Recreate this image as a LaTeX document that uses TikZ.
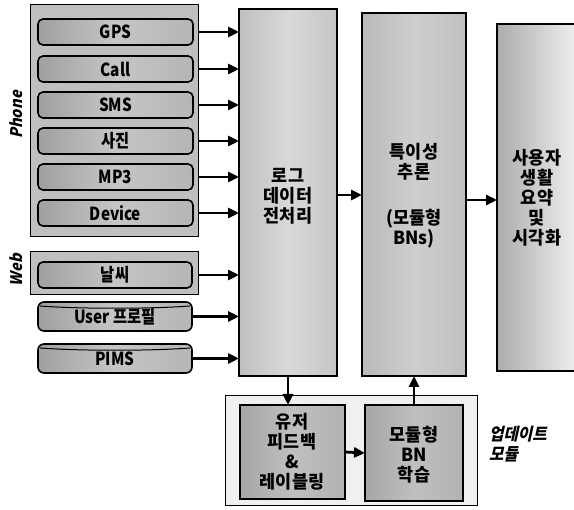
\documentclass[tikz,border=0pt]{standalone}
\usepackage{fontspec}
\setmainfont{Noto Sans CJK KR}
\newfontfamily\lab{Noto Sans CJK KR Black}[FakeStretch=0.85]
\newfontfamily\labk{Noto Sans CJK KR Black}[FakeStretch=0.97]
\newfontfamily\labit{Noto Sans CJK KR Black}[FakeStretch=0.92,FakeSlant=0.22]
\usetikzlibrary{arrows.meta}
\begin{document}
\begin{tikzpicture}[x=1pt,y=-1pt,
  box/.style={draw=black, line width=1.2pt, inner sep=0pt, outer sep=0pt, anchor=north west},
  grp/.style={box, line width=1pt, fill=gray!50},
  srcfont/.style={font=\lab\fontsize{18}{20}\selectfont},
  src/.style={box, srcfont, line width=1.6pt, rounded corners=5pt, left color=gray!75, right color=gray!58, middle color=gray!45},
  cyltext/.style={srcfont, inner sep=0pt, outer sep=0pt, anchor=north west},
  col/.style={box, line width=1.6pt},
  cyl/.style={line width=1.6pt, draw=black, left color=gray!75, right color=gray!58, middle color=gray!45},
  txt/.style={inner sep=0pt, align=center, font=\labk\fontsize{18}{20}\selectfont},
  itl/.style={inner sep=0pt, font=\labit\fontsize{16}{18}\selectfont},
  ar/.style={line width=2.8pt, -{Triangle[length=11pt,width=10pt]}}]
\useasboundingbox (0,0) rectangle (574,510);
\clip (0,0) rectangle (574,510);

% Phone group
\node[grp, minimum width=168pt, minimum height=232pt] (phone) at (30,5) {};
\node[itl, rotate=90] (phonel) at (16,115) {Phone};
\node[src, minimum width=155pt, minimum height=26pt] (gps) at (38,19) {GPS};
\node[src, minimum width=155pt, minimum height=26pt] (call) at (38,56) {Call};
\node[src, minimum width=155pt, minimum height=26pt] (sms) at (38,92) {SMS};
\node[src, minimum width=155pt, minimum height=26pt] (photo) at (38,128) {사진};
\node[src, minimum width=155pt, minimum height=26pt] (mp3) at (38,164) {MP3};
\node[src, minimum width=155pt, minimum height=26pt] (dev) at (38,200) {Device};

% Web group
\node[grp, minimum width=168pt, minimum height=43pt] (web) at (30,252) {};
\node[itl, rotate=90] (webl) at (16,270) {Web};
\node[src, minimum width=154pt, minimum height=26pt] (wth) at (38,262) {날씨};

% Cylinders
\draw[cyl, rounded corners=6pt] (38,302) rectangle (192,331);
\draw[line width=1pt] (40,306) .. controls (80,309) and (150,309) .. (190,306);
\node[cyltext, minimum width=154pt, minimum height=29pt] (usr) at (38,302) {User 프로필};
\draw[cyl, rounded corners=6pt] (38,344) rectangle (192,373);
\draw[line width=1pt] (40,348) .. controls (80,351) and (150,351) .. (190,348);
\node[cyltext, minimum width=154pt, minimum height=29pt] (pims) at (38,344) {PIMS};

% Main columns
\node[col, minimum width=98pt, minimum height=367pt, left color=gray!50, right color=gray!45, middle color=gray!30] (log) at (239,9) {};
\node[txt] (logt) at (288,196) {로그\\데이터\\전처리};
\node[col, minimum width=104pt, minimum height=363pt, left color=gray!55, right color=gray!50, middle color=gray!38] (inf) at (362,13) {};
\node[txt] (inft) at (414,196) {특이성\\추론\\[26pt](모듈형\\BNs)};
\node[col, minimum width=84pt, minimum height=347pt, left color=gray!65, right color=gray!10] (viz) at (497,24) {};
\node[txt] (vizt) at (537,198) {사용자\\생활\\요약\\및\\시각화};

% Update module
\node[box, line width=1pt, minimum width=252pt, minimum height=110pt, fill=gray!12] (upd) at (225,396) {};
\node[col, minimum width=105pt, minimum height=94pt, left color=gray!70, right color=gray!60, middle color=gray!50] (fb) at (240,405) {};
\node[txt] (fbt) at (292,452) {유저\\피드백\\\&\\레이블링};
\node[col, minimum width=98pt, minimum height=96pt, left color=gray!70, right color=gray!60, middle color=gray!50] (bn) at (365,405) {};
\node[txt] (bnt) at (414,455) {모듈형\\BN\\학습};
\node[itl, anchor=north west, align=left, font=\labit\fontsize{17}{20}\selectfont] (updl) at (489,426) {업데이트\\모듈};

% Arrows into preprocessing
\foreach \n in {gps,call,sms,photo,mp3,dev,wth}
  \draw[ar] (\n.east -| phone.east) -- (\n.east -| log.west);
\draw[ar] (usr.east) -- (usr.east -| log.west);
\draw[ar] (pims.east) -- (pims.east -| log.west);

% Column arrows
\draw[ar] (log.east |- 0,195) -- (inf.west |- 0,195);
\draw[ar] (inf.east |- 0,200) -- (viz.west |- 0,200);
\draw[ar] (log.south) -- (log.south |- fb.north);
\draw[ar] (bn.north) -- (bn.north |- inf.south);
\draw[ar] (fb.east) -- (bn.west);
\end{tikzpicture}
\end{document}
